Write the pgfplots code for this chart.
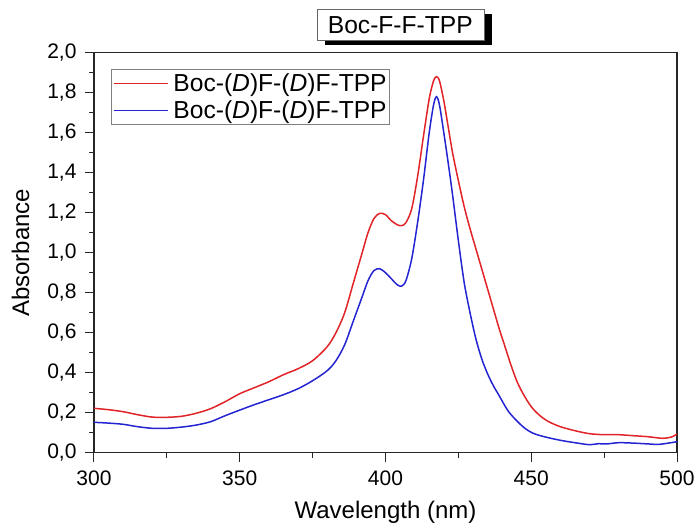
\documentclass[border=0pt]{standalone}
\usepackage{pgfplots}
\pgfplotsset{compat=1.18}
\usepackage{fontspec}
\setmainfont{Liberation Sans}
\usetikzlibrary{shadows}
\definecolor{specred}{RGB}{224,36,40}
\definecolor{specblue}{RGB}{36,36,210}
\begin{document}
\begin{tikzpicture}
\useasboundingbox (-94pt,-70.3pt) rectangle (603pt,452.7pt);
\begin{axis}[
    at={(0pt,0pt)}, anchor=south west,
    scale only axis,
    width=583pt, height=400pt,
    xmin=300, xmax=500,
    ymin=0, ymax=2,
    xtick={300,350,...,500},
    ytick={0,0.2,...,2.01},
    minor x tick num=1,
    minor y tick num=1,
    tick align=outside,
    major tick length=9pt,
    minor tick length=5pt,
    xtick pos=bottom, ytick pos=left,
    axis line style={line width=1.1pt, black!85},
    every tick/.style={line width=1pt, black!85},
    /pgf/number format/assume math mode=true,
    /pgf/number format/use comma,
    yticklabel style={/pgf/number format/fixed, /pgf/number format/fixed zerofill, /pgf/number format/precision=1},
    xticklabel style={/pgf/number format/1000 sep={}},
    xticklabel shift=6pt,
    yticklabel shift=5pt,
    tick label style={font=\fontsize{21}{24}\selectfont},
    label style={font=\fontsize{24}{28}\selectfont},
    xlabel={Wavelength (nm)},
    ylabel={Absorbance},
    xlabel style={yshift=-8pt},
    ylabel style={yshift=11pt},
    legend style={at={(rel axis cs:0.0286,0.9585)}, anchor=north west,
        draw=gray,
        font=\fontsize{24.6}{27}\selectfont,
        inner xsep=2pt, inner ysep=3.5pt,
        nodes={inner sep=1pt, anchor=west},
        row sep=5.5pt, column sep=4pt},
    legend cell align=left,
    legend image code/.code={\draw[#1, line width=1.6pt] (0pt,0pt) -- (54pt,0pt);},
]
\addplot[specred, line width=1.5pt, smooth] coordinates {
(300,0.222) (305,0.215) (310,0.205) (315,0.19) (320,0.178) (325,0.177)
(330,0.182) (335,0.197) (340,0.22) (345,0.255) (350,0.295) (355,0.325)
(360,0.355) (365,0.39) (370,0.42) (375,0.46) (380,0.53) (383,0.60)
(386,0.70) (389,0.85) (392,1.00) (394,1.10) (396,1.17) (398,1.197)
(400,1.19) (402,1.16) (404,1.14) (405.5,1.135) (407,1.15) (409,1.22)
(411,1.38) (413,1.58) (415,1.77) (416.5,1.86) (417.5,1.88) (418.5,1.86)
(420,1.76) (421.5,1.63) (423,1.50) (425,1.36) (427,1.23) (429,1.12)
(431,1.02) (433,0.92) (435,0.82) (437,0.72) (439,0.62) (441,0.53)
(443,0.44) (445,0.36) (447,0.30) (450,0.23) (453,0.185) (456,0.155)
(460,0.13) (465,0.11) (470,0.095) (475,0.09) (480,0.09) (485,0.085)
(490,0.08) (495,0.072) (498,0.078) (500,0.093)
};
\addlegendentry{Boc-(\textit{D})F-(\textit{D})F-TPP}
\addplot[specblue, line width=1.5pt, smooth] coordinates {
(300,0.152) (305,0.148) (310,0.142) (315,0.13) (320,0.122) (325,0.122)
(330,0.128) (335,0.138) (340,0.155) (345,0.185) (350,0.213) (355,0.24)
(360,0.265) (365,0.29) (370,0.32) (375,0.36) (380,0.41) (383,0.46)
(386,0.54) (389,0.66) (392,0.78) (394,0.86) (396,0.91) (398,0.92)
(400,0.90) (402,0.87) (404,0.84) (405.5,0.833) (407,0.86) (409,0.97)
(411,1.15) (413,1.36) (415,1.60) (416.5,1.74) (417.5,1.78) (418.5,1.74)
(420,1.60) (421.5,1.45) (423,1.29) (425,1.06) (427,0.85) (429,0.70)
(431,0.57) (433,0.47) (435,0.395) (437,0.335) (439,0.285) (442,0.21)
(445,0.16) (448,0.12) (451,0.095) (455,0.078) (460,0.062) (465,0.05)
(470,0.04) (473,0.045) (476,0.044) (480,0.05) (485,0.048) (490,0.044)
(494,0.042) (500,0.055)
};
\addlegendentry{Boc-(\textit{D})F-(\textit{D})F-TPP}
\end{axis}
% title box above the axis (axis box starts at the origin)
\node[draw=gray!80!black, line width=0.6pt, fill=white,
      minimum width=167pt, minimum height=31pt, inner sep=0pt,
      drop shadow={shadow xshift=8pt, shadow yshift=-4.5pt, fill=black, opacity=1},
      font=\fontsize{24.6}{27}\selectfont]
      at (306.3pt,427.7pt) {Boc-F-F-TPP};
\end{tikzpicture}
\end{document}
